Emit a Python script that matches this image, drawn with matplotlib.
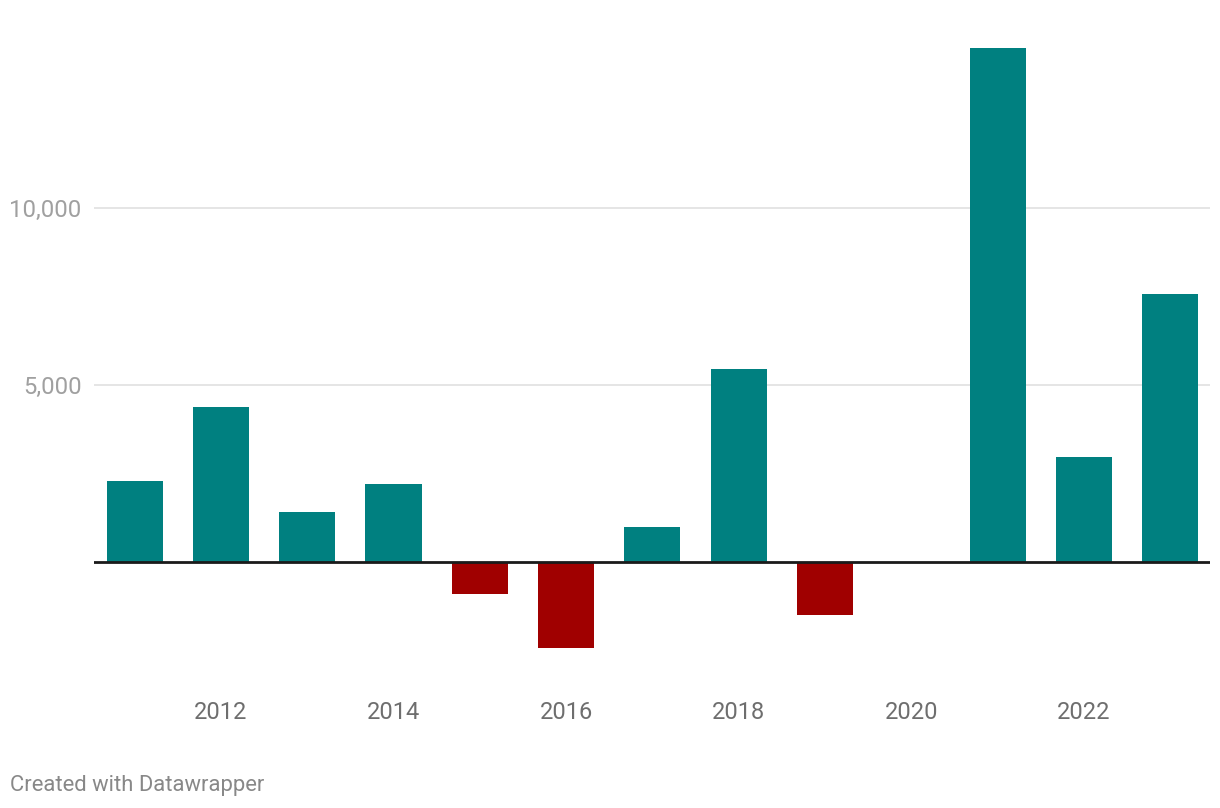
import matplotlib.pyplot as plt
import numpy as np

plt.rcParams['font.family'] = ['Roboto', 'DejaVu Sans']

years = [2011, 2012, 2013, 2014, 2015, 2016, 2017, 2018, 2019, 2020, 2021, 2022, 2023]
values = [2290, 4380, 1410, 2200, -900, -2430, 990, 5450, -1500, 0, 14520, 2970, 7570]
yticks = [5000, 10000]
xticks = [2012, 2014, 2016, 2018, 2020, 2022]

fig = plt.figure(figsize=(12.2, 8.08), dpi=100)
# axes: x 94..1210 px, y 30..680 px
ax = fig.add_axes([94 / 1220, 1 - 680 / 808, (1210 - 94) / 1220, 650 / 808])

colors = ['#008080' if v >= 0 else '#a00000' for v in values]
ax.bar(years, values, width=0.65, color=colors, zorder=2)
ax.axhline(0, color='#1a1a1a', lw=2, zorder=3)

ax.set_xlim(2010.53, 2023.46)
ax.set_ylim(-3333, 15028)

ax.set_yticks(yticks)
ax.set_yticklabels(['{:,}'.format(v) for v in yticks])
ax.yaxis.grid(True, color='#e3e3e3', lw=1.3, zorder=0)
ax.set_xticks(xticks)
ax.set_xticklabels([str(y) for y in xticks])

ax.tick_params(axis='y', length=0, pad=9, labelsize=17.2, labelcolor='#a0a0a0')
ax.tick_params(axis='x', length=0, pad=15, labelsize=17, labelcolor='#6e6e6e')
for s in ax.spines.values():
    s.set_visible(False)

fig.text(10 / 1220, 1 - 785 / 808, 'Created with Datawrapper', fontsize=15.8,
         color='#888888', va='center', ha='left')

fig.savefig('out.png', dpi=100, facecolor='white')
